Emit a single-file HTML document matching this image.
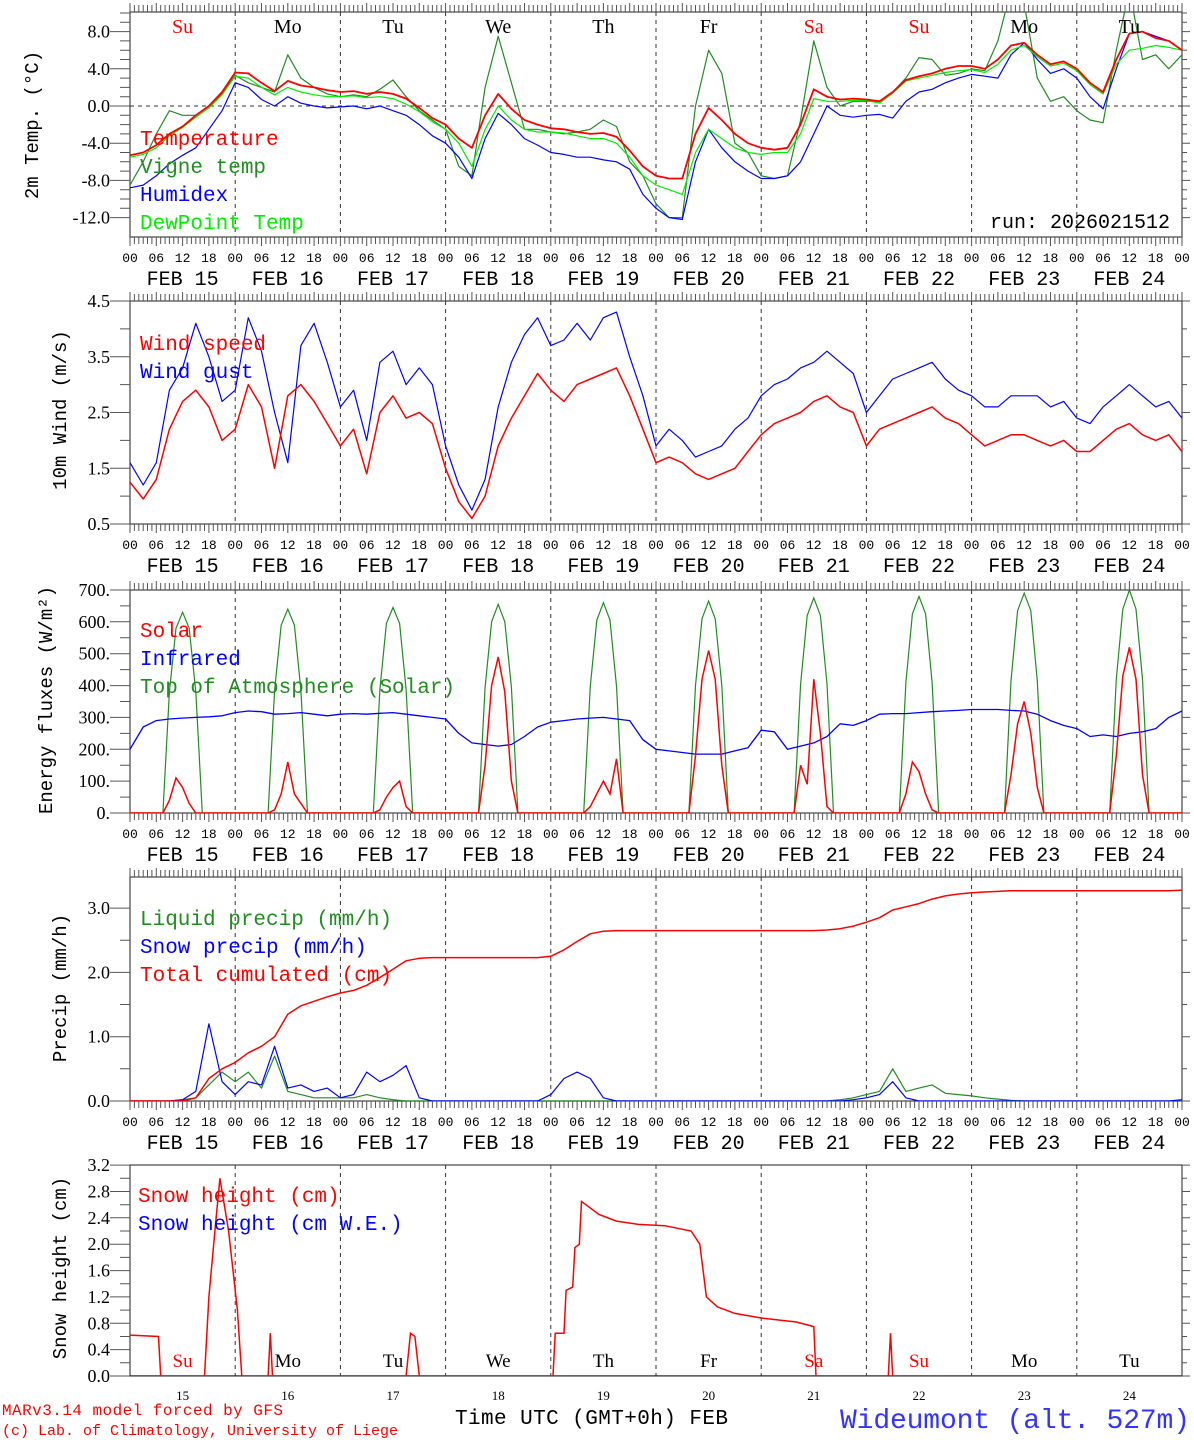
<!DOCTYPE html>
<html><head><meta charset="utf-8"><style>
html,body{margin:0;padding:0;background:#fff;}
svg{display:block;font-family:"Liberation Mono",monospace;}
</style></head><body>
<svg id="chart" width="1194" height="1440" viewBox="0 0 1194 1440" xmlns="http://www.w3.org/2000/svg"></svg>
<script>
// ---------- DATA (3-hourly, Feb 15 00 UTC .. Feb 25 00 UTC) ----------
const dayLabels = ["15","16","17","18","19","20","21","22","23","24"];
const dayNames = ["Su","Mo","Tu","We","Th","Fr","Sa","Su","Mo","Tu"];
const dayNameRed = [true,false,false,false,false,false,true,true,false,false];
const hourTicks = ["00","06","12","18"];

const temperature = [-5.3,-5.0,-4.2,-3.0,-2.2,-1.0,0.0,1.5, 3.6,3.5,2.5,1.6,2.7,2.2,2.0,1.7, 1.5,1.6,1.3,1.5,1.3,0.8,-0.2,-1.3, -2.0,-3.5,-4.5,-1.0,1.3,-0.3,-1.5,-2.0, -2.4,-2.5,-2.8,-3.0,-2.9,-3.3,-4.8,-6.5, -7.5,-7.8,-7.8,-3.0,-0.2,-1.5,-3.0,-4.0, -4.5,-4.7,-4.5,-2.0,1.8,1.0,0.7,0.8, 0.7,0.5,1.5,2.8,3.2,3.5,4.0,4.3, 4.3,4.0,5.0,6.5,6.8,5.5,4.5,4.8, 4.0,2.5,1.5,5.0,7.8,8.0,7.3,7.0,6.0];
const dewpoint = [-5.5,-5.2,-4.5,-3.2,-2.3,-1.2,-0.2,1.2, 3.2,3.0,2.0,1.2,2.0,1.5,1.2,1.0, 1.0,1.1,0.9,1.0,0.8,0.2,-0.6,-1.7, -2.5,-4.0,-6.5,-2.5,0.0,-1.5,-2.5,-2.8, -2.8,-2.9,-3.2,-3.5,-3.5,-4.0,-5.5,-7.5, -8.5,-9.0,-9.5,-5.0,-2.5,-3.5,-4.5,-5.0, -5.2,-5.0,-5.0,-3.0,0.8,0.5,0.5,0.6, 0.6,0.3,1.4,2.7,3.0,3.3,3.6,3.8, 3.9,3.6,4.5,6.0,6.5,5.3,4.3,4.6, 3.8,2.3,1.3,4.5,6.0,6.2,6.5,6.3,6.0];
const humidex = [-8.8,-8.5,-7.5,-6.2,-5.3,-4.5,-2.5,-0.5, 2.5,2.0,0.7,0.0,1.0,0.3,0.0,-0.2, -0.1,0.0,-0.3,0.0,-0.5,-1.0,-2.0,-3.2, -4.0,-5.5,-7.8,-3.5,-0.8,-2.0,-3.5,-4.2, -5.0,-5.2,-5.5,-5.5,-5.8,-6.0,-6.8,-9.5, -11.0,-12.0,-12.2,-6.0,-2.5,-4.5,-6.0,-7.0, -7.8,-7.8,-7.5,-6.0,-3.0,0.0,-1.0,-1.2, -1.0,-0.9,-1.3,0.5,1.5,1.8,2.5,3.0, 3.4,3.2,3.0,5.5,6.8,5.0,3.5,4.0, 3.0,1.0,-0.3,4.0,7.8,8.0,7.5,7.0,6.0];
const vigne = [-8.5,-6.0,-3.0,-0.5,-1.0,-1.0,0.0,1.3, 3.3,2.5,2.0,1.5,5.5,3.0,2.0,1.3, 1.0,1.2,1.0,1.8,2.8,1.0,-0.5,-1.5, -2.5,-6.5,-7.5,2.0,7.5,2.5,-2.5,-2.5, -2.8,-3.0,-2.8,-2.5,-1.5,-2.2,-6.0,-7.5, -10.5,-12.0,-12.0,0.0,6.0,3.5,-4.0,-5.0, -7.5,-7.8,-7.5,-1.5,7.0,2.0,0.0,0.5, 0.5,0.5,1.5,3.0,5.2,5.0,3.3,3.5, 4.0,3.8,7.0,12.5,11.0,3.0,0.5,1.0, -0.5,-1.5,-1.8,6.0,12.5,5.0,5.5,4.0,5.5];

const windSpeed = [1.25,0.95,1.3,2.2,2.7,2.9,2.6,2.0, 2.2,3.0,2.6,1.5,2.8,3.0,2.7,2.3, 1.9,2.2,1.4,2.5,2.8,2.4,2.5,2.3, 1.5,0.9,0.6,1.0,1.9,2.4,2.8,3.2, 2.9,2.7,3.0,3.1,3.2,3.3,2.8,2.2, 1.6,1.7,1.6,1.4,1.3,1.4,1.5,1.8, 2.1,2.3,2.4,2.5,2.7,2.8,2.6,2.5, 1.9,2.2,2.3,2.4,2.5,2.6,2.4,2.3, 2.1,1.9,2.0,2.1,2.1,2.0,1.9,2.0, 1.8,1.8,2.0,2.2,2.3,2.1,2.0,2.1,1.8];
const windGust = [1.6,1.2,1.6,2.9,3.3,4.1,3.5,2.7, 2.9,4.2,3.6,2.5,1.6,3.7,4.1,3.4, 2.6,2.9,2.0,3.4,3.6,3.0,3.3,3.0, 1.9,1.2,0.75,1.3,2.6,3.4,3.9,4.2, 3.7,3.8,4.1,3.8,4.2,4.3,3.5,2.8, 1.9,2.2,2.0,1.7,1.8,1.9,2.2,2.4, 2.8,3.0,3.1,3.3,3.4,3.6,3.4,3.2, 2.5,2.8,3.1,3.2,3.3,3.4,3.1,2.9, 2.8,2.6,2.6,2.8,2.8,2.8,2.6,2.7, 2.4,2.3,2.6,2.8,3.0,2.8,2.6,2.7,2.4];

const infrared = [200,270,290,295,298,300,302,305, 315,320,318,310,312,315,310,305, 310,312,310,313,315,310,305,300, 295,250,220,215,210,215,240,270, 285,290,295,298,300,295,290,230, 200,195,190,185,185,185,195,205, 260,255,200,210,220,240,280,275, 290,310,312,312,315,318,320,322, 325,325,325,322,320,310,290,275, 265,240,245,240,250,255,265,300,320];
// solar & top-of-atmosphere: 7 samples per day at these hours of day
const solarHours = [7.5,9,10.5,12,13.5,15,16.5];
const toaDaily = [[0,380,580,630,580,380,0],[0,385,590,640,590,385,0],[0,388,595,645,595,388,0],[0,395,600,655,600,395,0],[0,398,605,660,605,398,0],[0,400,610,665,610,400,0],[0,405,620,675,620,405,0],[0,410,625,680,625,410,0],[0,415,635,690,635,415,0],[0,420,640,700,640,420,0]];
const solarDaily = [[0,40,110,80,30,0,0],[0,10,60,160,60,30,0],[0,10,50,80,100,20,0],[0,150,400,490,380,100,0],[0,20,60,100,60,170,0],[0,180,420,510,420,150,0],[0,150,90,420,250,20,0],[0,60,160,130,60,10,0],[0,120,280,350,250,80,0],[0,180,430,520,420,120,0]];

const precipTotal = [0,0,0,0,0,0.05,0.35,0.5, 0.6,0.75,0.85,1.0,1.35,1.48,1.55,1.62, 1.68,1.72,1.8,1.92,2.05,2.18,2.22,2.23, 2.23,2.23,2.23,2.23,2.23,2.23,2.23,2.23, 2.25,2.35,2.48,2.6,2.64,2.65,2.65,2.65, 2.65,2.65,2.65,2.65,2.65,2.65,2.65,2.65, 2.65,2.65,2.65,2.65,2.65,2.66,2.68,2.72, 2.78,2.85,2.97,3.02,3.07,3.14,3.19,3.22, 3.24,3.25,3.26,3.27,3.27,3.27,3.27,3.27, 3.27,3.27,3.27,3.27,3.27,3.27,3.27,3.27,3.28];
const snowPrecip = [0,0,0,0,0.02,0.15,1.2,0.3, 0.1,0.3,0.25,0.85,0.2,0.25,0.15,0.2, 0.05,0.1,0.45,0.3,0.4,0.55,0.05,0, 0,0,0,0,0,0,0,0, 0.1,0.35,0.45,0.35,0.05,0,0,0, 0,0,0,0,0,0,0,0, 0,0,0,0,0,0,0,0.02, 0.05,0.1,0.3,0.05,0,0,0,0, 0,0,0,0,0,0,0,0, 0,0,0,0,0,0,0,0,0.02];
const liquidPrecip = [0,0,0,0,0.02,0.05,0.25,0.45, 0.3,0.45,0.2,0.7,0.15,0.1,0.05,0.05, 0.05,0.05,0.1,0.05,0.02,0,0,0, 0,0,0,0,0,0,0,0, 0,0,0,0,0,0,0,0, 0,0,0,0,0,0,0,0, 0,0,0,0,0,0,0.02,0.05, 0.1,0.15,0.5,0.15,0.2,0.25,0.12,0.1, 0.08,0.05,0.03,0.01,0,0,0,0, 0,0,0,0,0,0,0,0,0];

const snowHours = [0,6.5,7,17,18,19.5,20.5,22.5,24.5,25.5,31.5,32,32.5,63,64,65,66,96.5,97,99,99.5,101,101.5,102.5,103,104,107,111,116,122,128,130,131.5,134,138,144,152,156,156.5,173,173.5,174,240];
const snowHeight = [0.62,0.6,0,0,1.2,2.3,3.0,2.2,1.0,0,0,0.65,0,0,0.65,0.6,0,0,0.65,0.65,1.3,1.35,1.95,2.0,2.65,2.6,2.45,2.35,2.3,2.28,2.2,2.0,1.2,1.05,0.95,0.88,0.82,0.75,0,0,0.65,0,0];
const snowWE = [0,0];
const snowWEHours = [0,240];

// ---------- LAYOUT ----------
const NS = "http://www.w3.org/2000/svg";
const svg = document.getElementById("chart");
const X0 = 130, X1 = 1182;
function xAt(h){ return X0 + h*(X1-X0)/240; }
function mk(tag, attrs, parent){
  const e = document.createElementNS(NS, tag);
  for (const k in attrs) e.setAttribute(k, attrs[k]);
  (parent||svg).appendChild(e);
  return e;
}
function txt(s, x, y, size, color, anchor, parent, family){
  const t = mk("text", {x:x, y:y, "font-size":size, fill:color||"#000", "text-anchor":anchor||"start"}, parent);
  if (family) t.setAttribute("font-family", family);
  t.textContent = s;
  return t;
}

const panels = [
  {id:"temp", top:12, bot:237, yv:v=>106 - v*9.3, ticks:[-12,-8,-4,0,4,8], fmt:v=>v.toFixed(1), minor:1, vmin:-13, vmax:10, hourly:true, title:"2m Temp. (°C)", tx:38, ty:125},
  {id:"wind", top:301, bot:524, yv:v=>524-(v-0.5)*55.75, ticks:[0.5,1.5,2.5,3.5,4.5], fmt:v=>v.toFixed(1), minor:0.5, vmin:0.5, vmax:4.5, hourly:true, title:"10m Wind (m/s)", tx:66, ty:410},
  {id:"flux", top:590, bot:813, yv:v=>813 - v*0.3186, ticks:[0,100,200,300,400,500,600,700], fmt:v=>v+".", minor:50, vmin:0, vmax:700, hourly:true, title:"Energy fluxes (W/m²)", tx:52, ty:700},
  {id:"precip", top:877, bot:1101, yv:v=>1101 - v*64.3, ticks:[0,1,2,3], fmt:v=>v.toFixed(1), minor:0.5, vmin:0, vmax:3.4, hourly:true, title:"Precip (mm/h)", tx:66, ty:988},
  {id:"snow", top:1165, bot:1376, yv:v=>1376 - v*65.9, ticks:[0,0.4,0.8,1.2,1.6,2.0,2.4,2.8,3.2], fmt:v=>v.toFixed(1), minor:0.2, vmin:0, vmax:3.2, hourly:false, title:"Snow height (cm)", tx:66, ty:1268}
];

panels.forEach(p=>{
  const g = mk("g", {});
  
  
  const cp = mk("clipPath", {id:"clip-"+p.id}, g);
  mk("rect", {x:X0, y:p.top, width:X1-X0, height:p.bot-p.top}, cp);
  for (let d=1; d<10; d++){
    const l = mk("line", {x1:xAt(d*24), x2:xAt(d*24), y1:p.top, y2:p.bot, stroke:"#333", "stroke-width":1, "stroke-dasharray":"4,4"}, g);
    
    
  }
  const fr = mk("rect", {x:X0, y:p.top, width:X1-X0, height:p.bot-p.top, fill:"none", stroke:"#444", "stroke-width":1.2}, g);
  
  
  if (p.hourly){
    let dstr = "";
    for (let h=0; h<=240; h++){
      const x = xAt(h).toFixed(1);
      const L = (h%6===0) ? 9 : 7;
      dstr += `M${x},${p.top}v${-L}M${x},${p.bot}v${L}`;
    }
    const tk = mk("path", {d:dstr, stroke:"#555", "stroke-width":1, fill:"none"}, g);
    
    
    for (let d=0; d<=10; d++){
      for (let k=0; k<4; k++){
        if (d===10 && k>0) break;
        const t = txt(hourTicks[k], xAt(d*24+k*6), p.bot+25, 13, "#000", "middle", g);
        
        
      }
    }
    for (let d=0; d<10; d++){
      const t = txt("FEB " + dayLabels[d], xAt(d*24+12), p.bot+48, 20, "#000", "middle", g);
      
      
    }
  }
  let yd = "";
  for (let v=p.vmin; v<=p.vmax+1e-9; v+=p.minor){
    if (v < Math.min(...p.ticks)-1e-9) continue;
    const y = p.yv(v);
    if (y < p.top-1 || y > p.bot+1) continue;
    const major = p.ticks.some(t=>Math.abs(t-v)<1e-6);
    yd += `M${X0},${y.toFixed(1)}h${major?-20:-10}M${X1},${y.toFixed(1)}h${major?8:5}`;
  }
  const yt = mk("path", {d:yd, stroke:"#555", "stroke-width":1, fill:"none"}, g);
  
  
  p.ticks.forEach(v=>{
    const t = txt(p.fmt(v), 110, p.yv(v)+6, 18, "#000", "end", g, "Liberation Serif, serif");
    
    
  });
  const tt = txt(p.title, 0, 0, 19, "#000", "middle", g, "Liberation Mono, monospace");
  tt.setAttribute("transform", `translate(${p.tx},${p.ty}) rotate(-90)`);
  
  
  p.g = g;
});

function series3h(p, vals, color, width, name){
  let d = "";
  vals.forEach((v,i)=>{ d += (i?"L":"M") + xAt(i*3).toFixed(1) + "," + p.yv(v).toFixed(1); });
  const e = mk("path", {d:d, stroke:color, "stroke-width":width, fill:"none", "clip-path":"url(#clip-"+p.id+")", "stroke-linejoin":"round"}, p.g);
  
  
  return e;
}
function seriesXY(p, hours, vals, color, width, name){
  let d = "";
  vals.forEach((v,i)=>{ d += (i?"L":"M") + xAt(hours[i]).toFixed(1) + "," + p.yv(v).toFixed(1); });
  const e = mk("path", {d:d, stroke:color, "stroke-width":width, fill:"none", "clip-path":"url(#clip-"+p.id+")"}, p.g);
  
  
  return e;
}
function dailySeries(p, daily, color, width, name){
  const hrs = [], vals = [];
  hrs.push(0); vals.push(0);
  daily.forEach((arr,d)=>{ arr.forEach((v,k)=>{ hrs.push(d*24+solarHours[k]); vals.push(v); }); });
  hrs.push(240); vals.push(0);
  return seriesXY(p, hrs, vals, color, width, name);
}
function legend(p, items, x, y0){
  items.forEach((it,i)=>{
    const t = txt(it[0], x, y0 + i*28, 21, it[1], "start", p.g);
    
    
  });
}

const P1 = panels[0];
const zl = mk("line", {x1:X0, x2:X1, y1:P1.yv(0), y2:P1.yv(0), stroke:"#333", "stroke-dasharray":"4,4"}, P1.g);


series3h(P1, vigne, "#228b22", 1.2, "vigne-temp-line");
series3h(P1, humidex, "#0000ff", 1.2, "humidex-line");
series3h(P1, dewpoint, "#00ee00", 1.2, "dewpoint-line");
series3h(P1, temperature, "#ff0000", 1.8, "temperature-line");
legend(P1, [["Temperature","#ff0000"],["Vigne temp","#228b22"],["Humidex","#0000ff"],["DewPoint Temp","#00ee00"]], 140, 145);
const rn = txt("run: 2026021512", 1170, 228, 20, "#000", "end", P1.g);


dayNames.forEach((n,d)=>{
  const t = txt(n, xAt(d*24+12), 33, 20, dayNameRed[d]?"#ff0000":"#000", "middle", P1.g, "Liberation Serif, serif");
  
  
});

const P2 = panels[1];
series3h(P2, windGust, "#0000ff", 1.2, "wind-gust-line");
series3h(P2, windSpeed, "#ff0000", 1.5, "wind-speed-line");
legend(P2, [["Wind speed","#ff0000"],["Wind gust","#0000ff"]], 140, 350);

const P3 = panels[2];
dailySeries(P3, toaDaily, "#228b22", 1.2, "toa-solar-line");
series3h(P3, infrared, "#0000ff", 1.3, "infrared-line");
dailySeries(P3, solarDaily, "#ff0000", 1.5, "solar-line");
legend(P3, [["Solar","#ff0000"],["Infrared","#0000ff"],["Top of Atmosphere (Solar)","#228b22"]], 140, 637);

const P4 = panels[3];
series3h(P4, liquidPrecip, "#228b22", 1.2, "liquid-precip-line");
series3h(P4, snowPrecip, "#0000ff", 1.2, "snow-precip-line");
series3h(P4, precipTotal, "#ff0000", 1.5, "total-cumulated-line");
legend(P4, [["Liquid precip (mm/h)","#228b22"],["Snow precip (mm/h)","#0000ff"],["Total cumulated (cm)","#ff0000"]], 140, 925);

const P5 = panels[4];
seriesXY(P5, snowWEHours, snowWE, "#0000ff", 1.2, "snow-we-line");
seriesXY(P5, snowHours, snowHeight, "#ff0000", 1.5, "snow-height-line");
legend(P5, [["Snow height (cm)","#ff0000"],["Snow height (cm W.E.)","#0000ff"]], 138, 1202);
dayNames.forEach((n,d)=>{
  const t = txt(n, xAt(d*24+12), 1367, 19, dayNameRed[d]?"#ff0000":"#000", "middle", P5.g, "Liberation Serif, serif");
  
  
  const t2 = txt(dayLabels[d], xAt(d*24+12), 1400, 13, "#000", "middle", P5.g, "Liberation Serif, serif");
  
  
});

const f1 = txt("MARv3.14 model forced by GFS", 2, 1415, 16, "#ff0000", "start");
f1.setAttribute("textLength", "281");


const f2 = txt("(c) Lab. of Climatology, University of Liege", 2, 1435, 15, "#ff0000", "start");
f2.setAttribute("textLength", "396");


const f3 = txt("Time UTC (GMT+0h) FEB", 455, 1424, 21, "#000", "start");
f3.setAttribute("textLength", "273");


const f4 = txt("Wideumont (alt. 527m)", 1190, 1428, 28, "#3333ff", "end");
f4.setAttribute("textLength", "350");


</script>
</body></html>
